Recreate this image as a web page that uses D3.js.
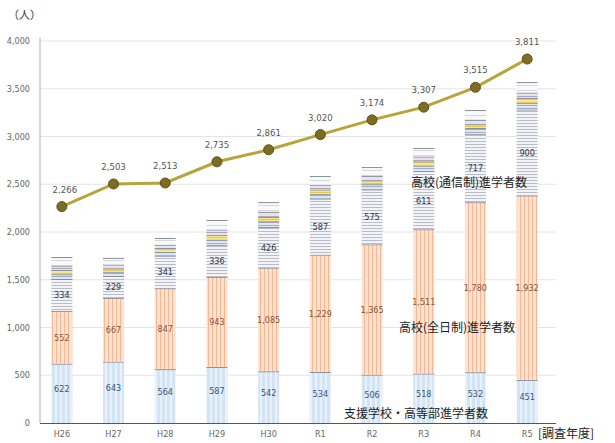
<!DOCTYPE html>
<html><head><meta charset="utf-8">
<script src="https://cdn.jsdelivr.net/npm/d3@7"></script>
<style>
html,body{margin:0;padding:0;background:#fff;}
svg{display:block;}
</style></head>
<body>
<svg id="chart" width="615" height="443"></svg>
<script>
const years = ["H26","H27","H28","H29","H30","R1","R2","R3","R4","R5"];
const shien = [622,643,564,587,542,534,506,518,532,451];
const zennichi = [552,667,847,943,1085,1229,1365,1511,1780,1932];
const tsushin = [334,229,341,336,426,587,575,611,717,900];
const senshu = [50,45,40,55,60,50,55,55,60,70];
const kakushu = [45,35,40,50,45,45,40,45,40,50];
const shokugyo = [45,40,35,55,55,50,49,50,48,57];
const sonota = [90,70,70,100,100,91,90,90,100,110];
const totals = [2266,2503,2513,2735,2861,3020,3174,3307,3515,3811];
const yTicks = [0,500,1000,1500,2000,2500,3000,3500,4000];

const svg = d3.select("#chart");
const x = d3.scalePoint().domain(years).range([36, 553]).padding(0.5);
const y = d3.scaleLinear().domain([0,4000]).range([423, 41]);
const barW = 21;
const numFont = "'DejaVu Sans Condensed','Liberation Sans Narrow',sans-serif";
const jpFont = "'Noto Sans CJK JP',sans-serif";

const defs = svg.append("defs");
function stripe(id, bg, line, w, vertical, gap){
  const p = defs.append("pattern").attr("id", id).attr("patternUnits","userSpaceOnUse")
    .attr("width", vertical ? gap : 4).attr("height", vertical ? 4 : gap);
  p.append("rect").attr("width", vertical?gap:4).attr("height", vertical?4:gap).attr("fill", bg);
  if (vertical) p.append("rect").attr("x",0).attr("y",0).attr("width",w).attr("height",4).attr("fill",line);
  else p.append("rect").attr("x",0).attr("y",0).attr("width",4).attr("height",w).attr("fill",line);
}
stripe("pBlue","#d3e4f4","#e9f2fb",2,true,5);
stripe("pOrange","#fde2d1","#f5b893",1,true,4);
stripe("pTsu","#f4f4f8","#b8bcc8",1,false,3);
stripe("pSen","#dfe6f0","#9fb0c8",1,false,3);
stripe("pYel","#f8e68a","#e8c84a",1,false,3);
stripe("pLav","#e6e2f0","#a9a4c0",1,false,4);
stripe("pOth","#f9f9f9","#d8d8d8",1,false,5);

// gridlines
svg.append("g").selectAll("line").data(yTicks.filter(d=>d>0)).join("line")
  .attr("x1",40).attr("x2",556).attr("y1",d=>y(d)).attr("y2",d=>y(d))
  .attr("stroke","#e4e4e4").attr("stroke-width",1);

// y axis labels
svg.append("g").selectAll("text").data(yTicks).join("text")
  .attr("x",30).attr("y",d=>y(d)+3).attr("text-anchor","end")
  .attr("font-family",numFont).attr("font-size",9).attr("fill","#666")
  .text(d=>d3.format(",")(d));

// stacked bars
const layers = [
  {vals:shien, fill:"url(#pBlue)", label:true, color:"#3d5378"},
  {vals:zennichi, fill:"url(#pOrange)", label:true, color:"#8a5238"},
  {vals:tsushin, fill:"url(#pTsu)", label:true, color:"#333a4a"},
  {vals:senshu, fill:"url(#pSen)"},
  {vals:kakushu, fill:"url(#pYel)"},
  {vals:shokugyo, fill:"url(#pLav)"},
  {vals:sonota, fill:"url(#pOth)"}
];
const gBars = svg.append("g");
years.forEach((yr,i)=>{
  let base = 0;
  layers.forEach((L,li)=>{
    const v = L.vals[i];
    const top = base + v;
    gBars.append("rect").attr("x", x(yr)-barW/2).attr("width", barW)
      .attr("y", y(top)).attr("height", y(base)-y(top)).attr("fill", L.fill);
    gBars.append("line").attr("x1",x(yr)-barW/2).attr("x2",x(yr)+barW/2)
      .attr("y1",y(top)+0.5).attr("y2",y(top)+0.5).attr("stroke","#8a8f9c").attr("stroke-width",1);
    if (L.label) {
      const off = li===0 ? -1 : 3.5;
      gBars.append("text").attr("x", x(yr)).attr("y", y(base + v/2)+off)
        .attr("text-anchor","middle").attr("font-family",numFont).attr("font-size",9)
        .attr("fill",L.color).text(d3.format(",")(v));
    }
    base = top;
  });
});

// axes lines
svg.append("line").attr("x1",40).attr("x2",40).attr("y1",38).attr("y2",423).attr("stroke","#c8c8c8").attr("stroke-width",1.5);
svg.append("line").attr("x1",40).attr("x2",556).attr("y1",423.5).attr("y2",423.5).attr("stroke","#555").attr("stroke-width",1);

// x labels
svg.append("g").selectAll("text").data(years).join("text")
  .attr("x",d=>x(d)).attr("y",437).attr("text-anchor","middle")
  .attr("font-family",numFont).attr("font-size",9).attr("fill","#666").text(d=>d);

// total line
const line = d3.line().x((d,i)=>x(years[i])).y(d=>y(d));
svg.append("path").datum(totals).attr("d",line).attr("fill","none")
  .attr("stroke","#b9a43a").attr("stroke-width",3);
svg.append("g").selectAll("circle").data(totals).join("circle")
  .attr("cx",(d,i)=>x(years[i])).attr("cy",d=>y(d)).attr("r",5)
  .attr("fill","#7d6c22").attr("stroke","#5e5218").attr("stroke-width",1);
svg.append("g").selectAll("text").data(totals).join("text")
  .attr("x",(d,i)=>x(years[i]) + (i===0?3:0)).attr("y",d=>y(d)-14)
  .attr("text-anchor","middle").attr("font-family",numFont).attr("font-size",9.5)
  .attr("fill","#555").text(d=>d3.format(",")(d));

// annotations
svg.append("text").attr("x",8).attr("y",19).attr("font-family",jpFont).attr("font-size",11).attr("fill","#333").text("（人）");
svg.append("text").attr("x",411).attr("y",187).attr("font-family",jpFont).attr("font-size",12).attr("fill","#222").text("高校(通信制)進学者数");
svg.append("text").attr("x",399).attr("y",332).attr("font-family",jpFont).attr("font-size",12).attr("fill","#222").text("高校(全日制)進学者数");
svg.append("text").attr("x",344).attr("y",418).attr("font-family",jpFont).attr("font-size",12).attr("fill","#222").text("支援学校・高等部進学者数");
svg.append("text").attr("x",538).attr("y",438).attr("font-family",jpFont).attr("font-size",12).attr("fill","#222").text("[調査年度]");
</script>
</body></html>
